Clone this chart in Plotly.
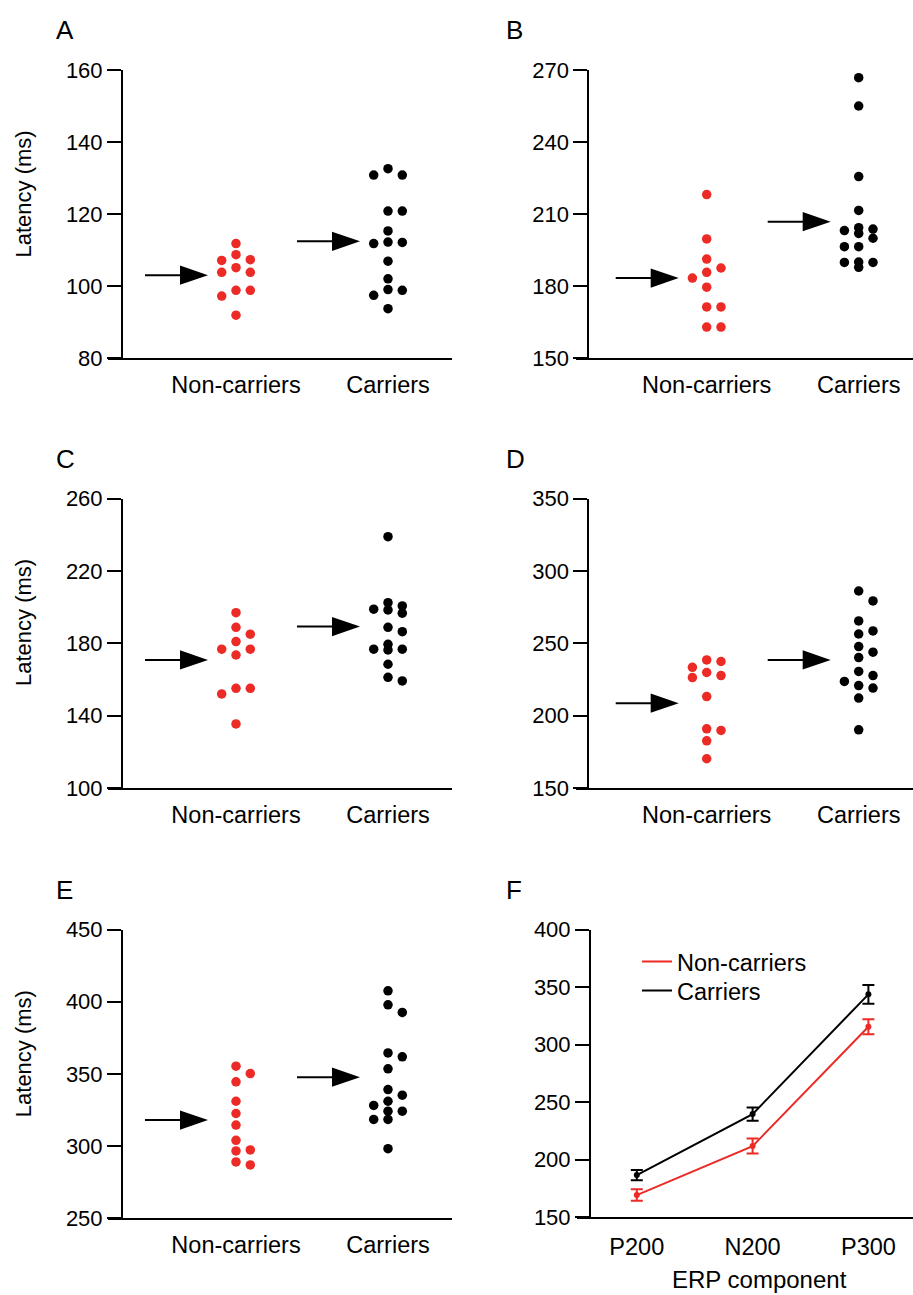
import plotly.graph_objects as go

# ---------------- data ----------------
categories = ["Non-carriers", "Carriers"]

a_non = [111.8, 108.7, 107.3, 107.1, 105.1, 103.8, 103.8, 98.8, 98.8, 97.2, 91.9]
a_car = [132.6, 130.8, 130.8, 120.8, 120.8, 115.3, 112.2, 112.1, 111.8, 106.9, 102.0, 99.0, 98.8, 97.4, 93.7]
a_mean = [103.0, 112.4]
a_ticks = [80, 100, 120, 140, 160]

b_non = [218.1, 199.6, 191.2, 187.5, 185.7, 183.3, 179.5, 171.3, 171.3, 162.9, 162.9]
b_car = [266.8, 255.0, 225.6, 211.5, 204.3, 203.7, 203.1, 201.9, 199.9, 196.4, 196.4, 190.0, 189.8, 189.8, 187.8]
b_mean = [183.3, 206.8]
b_ticks = [150, 180, 210, 240, 270]

c_non = [196.9, 188.8, 185.0, 180.9, 176.7, 176.7, 173.5, 155.1, 155.1, 152.0, 135.4]
c_car = [238.9, 202.4, 200.6, 198.8, 198.4, 196.6, 188.8, 186.4, 179.4, 176.7, 176.7, 176.3, 168.4, 161.2, 159.2]
c_mean = [170.8, 189.2]
c_ticks = [100, 140, 180, 220, 260]

d_non = [238.5, 237.4, 233.4, 229.8, 227.7, 226.3, 213.2, 190.9, 189.8, 182.6, 170.2]
d_car = [286.1, 279.2, 265.4, 258.5, 256.4, 247.7, 243.8, 240.1, 230.5, 227.7, 223.6, 220.8, 219.0, 212.1, 190.2]
d_mean = [208.6, 238.5]
d_ticks = [150, 200, 250, 300, 350]

e_non = [355.3, 350.2, 344.5, 331.0, 322.5, 314.5, 303.9, 297.2, 296.5, 288.9, 286.8]
e_car = [407.6, 397.9, 392.6, 364.5, 361.8, 353.5, 339.1, 335.2, 331.0, 328.1, 324.1, 324.1, 318.4, 318.4, 298.1]
e_mean = [317.9, 347.7]
e_ticks = [250, 300, 350, 400, 450]

f_components = ["P200", "N200", "P300"]
f_non_mean = [169.3, 211.9, 315.7]
f_non_sem = [5.0, 6.5, 6.5]
f_car_mean = [186.7, 239.7, 343.8]
f_car_sem = [4.5, 5.8, 8.2]
f_ticks = [150, 200, 250, 300, 350, 400]

y_title = "Latency (ms)"
f_x_title = "ERP component"

# ---------------- layout geometry (pixels) ----------------
W, H = 913, 1295
FONT = "Liberation Sans, Arial, sans-serif"
RED = "#ec2a26"
BLACK = "#000000"


def fx(px):
    return px / W


def fy(py):
    return 1 - py / H


col_geo = [
    dict(yaxis_px=122.0, xl=108.0, xr=452.0, cats=(236.0, 388.0), letter_px=54.0),
    dict(yaxis_px=588.3, xl=576.0, xr=913.0, cats=(706.7, 858.7), letter_px=504.0),
]
row_geo = [(70.0, 358.0), (498.5, 788.0), (929.7, 1218.0)]

COL_PX = 14.3   # swarm column spacing
DOT = 9.5       # dot diameter
GAP = 10.5      # min vertical separation in a swarm column


def swarm(values, px_per_val):
    """Simple deterministic beeswarm: column index for each value."""
    placed = []
    res = [0] * len(values)
    order = sorted(range(len(values)), key=lambda i: -values[i])
    for i in order:
        v = values[i]
        best, best_d = None, -1
        for c in (0, 1, -1):
            ds = [abs(v - pv) * px_per_val for pc, pv in placed if pc == c]
            md = min(ds) if ds else 1e9
            if md >= GAP:
                best = c
                break
            if md > best_d:
                best, best_d = c, md
        placed.append((best, v))
        res[i] = best
    return res


panels = [
    dict(letter="A", non=a_non, car=a_car, mean=a_mean, ticks=a_ticks, col=0, row=0),
    dict(letter="B", non=b_non, car=b_car, mean=b_mean, ticks=b_ticks, col=1, row=0),
    dict(letter="C", non=c_non, car=c_car, mean=c_mean, ticks=c_ticks, col=0, row=1),
    dict(letter="D", non=d_non, car=d_car, mean=d_mean, ticks=d_ticks, col=1, row=1),
    dict(letter="E", non=e_non, car=e_car, mean=e_mean, ticks=e_ticks, col=0, row=2),
]

fig = go.Figure()
layout = dict(
    width=W, height=H, margin=dict(l=0, r=0, t=0, b=0, autoexpand=False),
    paper_bgcolor="white", plot_bgcolor="white",
    font=dict(family=FONT, size=22, color=BLACK),
    showlegend=True,
)
shapes = []
annotations = []

axis_common = dict(showgrid=False, zeroline=False, showline=True, linewidth=2,
                   automargin=False, linecolor=BLACK,
                   tickfont=dict(family=FONT, size=22, color=BLACK))
XFONT = dict(family=FONT, size=23.5, color=BLACK)
LETTER_FONT = dict(family=FONT, size=26, color=BLACK)

for n, p in enumerate(panels, start=1):
    cg = col_geo[p["col"]]
    top, bot = row_geo[p["row"]]
    p0, p1 = cg["cats"]
    k = p1 - p0
    ticks = p["ticks"]
    px_per_val = (bot - top) / (ticks[-1] - ticks[0])
    xs = "" if n == 1 else str(n)

    layout["xaxis" + xs] = dict(
        axis_common, domain=[fx(cg["xl"]), fx(cg["xr"])], anchor="y" + xs,
        range=[(cg["xl"] - p0) / k, (cg["xr"] - p0) / k],
        tickmode="array", tickvals=[0, 1], ticktext=categories, tickfont=XFONT,
        ticks="outside", ticklen=5, tickcolor="rgba(0,0,0,0)", fixedrange=True,
    )
    layout["yaxis" + xs] = dict(
        axis_common, domain=[fy(bot), fy(top)], anchor="free", position=fx(cg["yaxis_px"]),
        range=[ticks[0], ticks[-1]], tickmode="array", tickvals=ticks,
        ticks="outside", ticklen=14, tickwidth=2, tickcolor=BLACK, fixedrange=True,
    )

    for j, (vals, colr) in enumerate(((p["non"], RED), (p["car"], BLACK))):
        cols = swarm(vals, px_per_val)
        fig.add_trace(go.Scatter(
            x=[j + c * COL_PX / k for c in cols], y=vals, mode="markers",
            marker=dict(size=DOT, color=colr, line=dict(width=0)),
            xaxis="x" + xs, yaxis="y" + xs, showlegend=False,
            name=categories[j], hoverinfo="y",
        ))
        # mean arrow
        shapes.append(dict(type="line", xref="x" + xs, yref="y" + xs,
                           xsizemode="pixel", ysizemode="pixel",
                           xanchor=j, yanchor=p["mean"][j],
                           x0=-91, x1=-50, y0=0, y1=0,
                           line=dict(color=BLACK, width=2)))
        shapes.append(dict(type="path", xref="x" + xs, yref="y" + xs,
                           xsizemode="pixel", ysizemode="pixel",
                           xanchor=j, yanchor=p["mean"][j],
                           path="M-56,9.6 L-28,0 L-56,-9.6 Z",
                           fillcolor=BLACK, line=dict(width=0)))

    annotations.append(dict(text=p["letter"], xref="paper", yref="paper",
                            x=fx(cg["letter_px"]), y=fy(top - 39.5),
                            xanchor="left", yanchor="middle", showarrow=False,
                            font=LETTER_FONT))
    if p["col"] == 0:
        annotations.append(dict(text=y_title, xref="paper", yref="paper",
                                x=fx(23), y=fy(top + 124.5), textangle=-90,
                                xanchor="center", yanchor="middle", showarrow=False,
                                font=dict(family=FONT, size=22, color=BLACK)))

# ---------------- panel F ----------------
fcats = [636.8, 752.6, 868.4]
fk = (fcats[-1] - fcats[0]) / 2
fxl, fxr, fyax = 576.7, 913.0, 590.0
ftop, fbot = 929.7, 1217.3
layout["xaxis6"] = dict(
    axis_common, domain=[fx(fxl), fx(fxr)], anchor="y6",
    range=[(fxl - fcats[0]) / fk, (fxr - fcats[0]) / fk],
    tickmode="array", tickvals=[0, 1, 2], ticktext=f_components, tickfont=XFONT,
    ticks="outside", ticklen=7, tickcolor="rgba(0,0,0,0)", fixedrange=True,
)
layout["yaxis6"] = dict(
    axis_common, domain=[fy(fbot), fy(ftop)], anchor="free", position=fx(fyax),
    range=[f_ticks[0], f_ticks[-1]], tickmode="array", tickvals=f_ticks,
    ticks="outside", ticklen=14, tickwidth=2, tickcolor=BLACK, fixedrange=True,
)
for name, m, s, colr in ((categories[0], f_non_mean, f_non_sem, RED),
                         (categories[1], f_car_mean, f_car_sem, BLACK)):
    fig.add_trace(go.Scatter(
        x=list(range(len(f_components))), y=m, mode="lines+markers",
        line=dict(color=colr, width=2), marker=dict(size=6, color=colr),
        error_y=dict(type="data", array=s, visible=True, color=colr, thickness=2, width=6),
        xaxis="x6", yaxis="y6", showlegend=False, name=name,
    ))
legend_rows = [961.7, 990.7]
for idx, (name, colr) in enumerate(((categories[0], RED), (categories[1], BLACK))):
    lg = "legend" if idx == 0 else "legend2"
    fig.add_trace(go.Scatter(
        x=[None], y=[None], mode="lines", line=dict(color=colr, width=2),
        xaxis="x6", yaxis="y6", name=name, showlegend=True, legend=lg,
    ))
    layout[lg] = dict(x=fx(637), y=fy(legend_rows[idx]), xanchor="left", yanchor="middle",
                      font=dict(family=FONT, size=23.5, color=BLACK),
                      bgcolor="rgba(0,0,0,0)", borderwidth=0,
                      itemclick=False, itemdoubleclick=False)
annotations.append(dict(text="F", xref="paper", yref="paper",
                        x=fx(504), y=fy(ftop - 39.5), xanchor="left", yanchor="middle",
                        showarrow=False, font=LETTER_FONT))
annotations.append(dict(text=f_x_title, xref="paper", yref="paper",
                        x=fx(759), y=fy(1279.5), xanchor="center", yanchor="middle",
                        showarrow=False, font=dict(family=FONT, size=24, color=BLACK)))

layout["shapes"] = shapes
layout["annotations"] = annotations
fig.update_layout(**layout)

fig.write_html("out.html", include_plotlyjs=True, full_html=True,
               config=dict(displayModeBar=False, staticPlot=True),
               post_script="document.body.style.margin='0';document.body.style.overflow='hidden';")
